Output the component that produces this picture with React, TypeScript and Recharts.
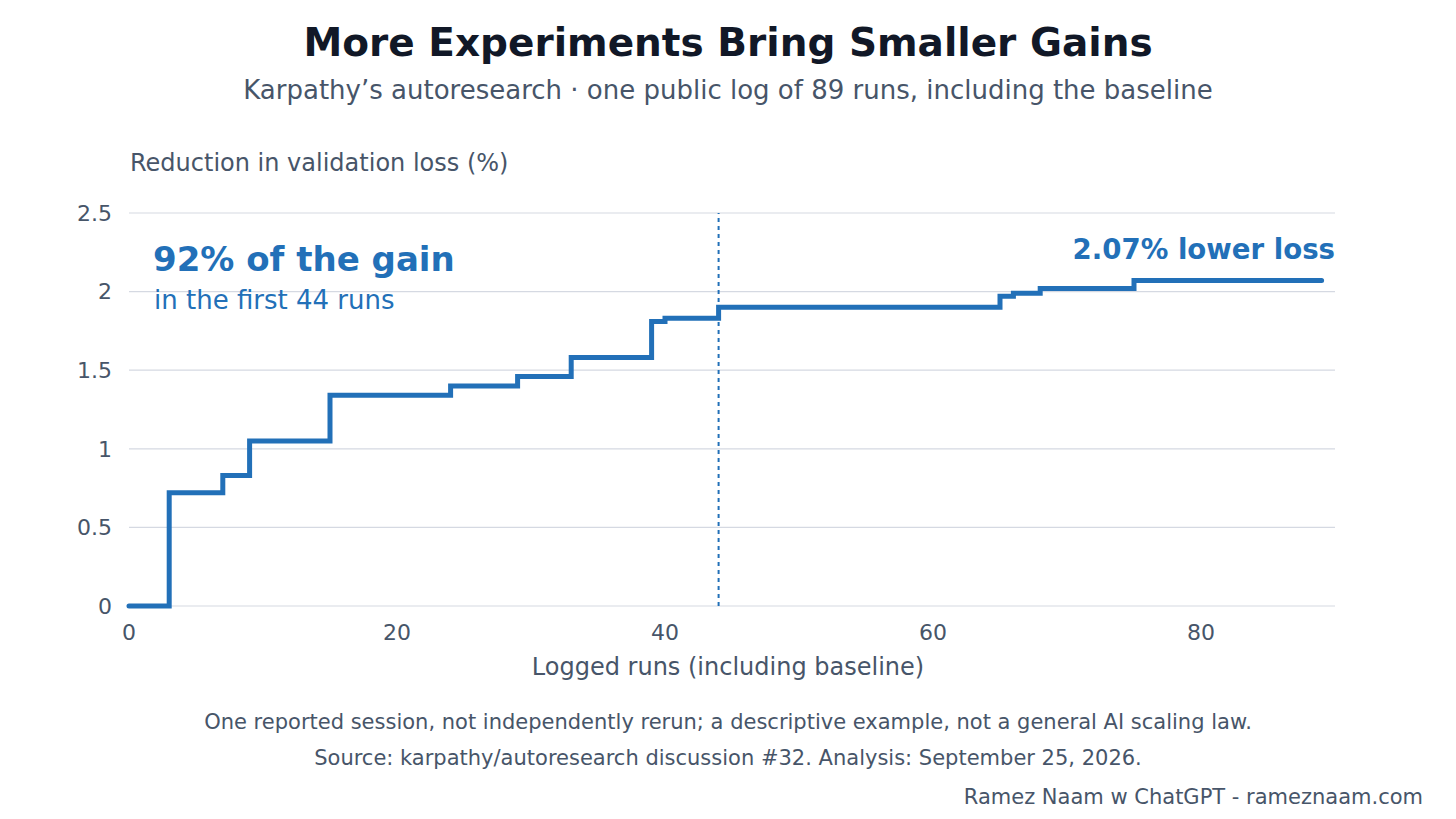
import { CartesianGrid, Line, LineChart, ReferenceLine, XAxis, YAxis } from 'recharts';

// run index where the best loss improved, and the cumulative reduction (%) from there on
const runs = [0, 3, 7, 9, 15, 24, 29, 33, 39, 40, 44, 65, 66, 68, 75, 89];
const reduction = [0, 0.72, 0.83, 1.05, 1.34, 1.4, 1.46, 1.58, 1.81, 1.83, 1.9, 1.97, 1.99, 2.02, 2.07, 2.07];
const xTicks = [0, 20, 40, 60, 80];
const yTicks = [0, 0.5, 1, 1.5, 2, 2.5];
const cutoffRun = 44;

const data = runs.map((run, i) => ({ run, value: reduction[i] }));

const FONT = '"DejaVu Sans", Verdana, sans-serif';
const BLUE = '#2270b8';
const SLATE = '#475569';

const fmtY = (v: number) => String(v);

function Label({ x, y, size, children, color = SLATE, weight = 400, align = 'left' }: any) {
  const tx = align === 'center' ? '-50%' : align === 'right' ? '-100%' : '0';
  return (
    <div
      style={{
        position: 'absolute',
        left: x,
        top: y,
        transform: `translate(${tx}, -50%)`,
        fontSize: size,
        fontWeight: weight,
        color,
        whiteSpace: 'nowrap',
        lineHeight: 1,
      }}
    >
      {children}
    </div>
  );
}

export default function App() {
  return (
    <div style={{ position: 'relative', width: 1456, height: 819, background: '#fff', fontFamily: FONT }}>
      <style>{'body{margin:0}'}</style>
      <LineChart width={1456} height={819} data={data} margin={{ top: 213, right: 121, bottom: 183, left: 69 }}>
        <CartesianGrid vertical={false} stroke="#d5d9e2" strokeWidth={1.2} />
        <XAxis
          dataKey="run"
          type="number"
          domain={[0, 90]}
          ticks={xTicks}
          axisLine={false}
          tickLine={false}
          tickMargin={12}
          height={30}
          tick={{ fill: SLATE, fontSize: 22, fontFamily: FONT }}
        />
        <YAxis
          type="number"
          domain={[0, 2.5]}
          ticks={yTicks}
          tickFormatter={fmtY}
          axisLine={false}
          tickLine={false}
          tickMargin={11}
          width={60}
          tick={{ fill: SLATE, fontSize: 22, fontFamily: FONT }}
        />
        <ReferenceLine x={cutoffRun} stroke={BLUE} strokeWidth={2} strokeDasharray="4 4" />
        <Line
          type="stepAfter"
          dataKey="value"
          stroke={BLUE}
          strokeWidth={5}
          dot={false}
          strokeLinecap="round"
          strokeLinejoin="miter"
          isAnimationActive={false}
        />
      </LineChart>

      <Label x={728} y={42} size={39} weight={700} color="#111827" align="center">
        More Experiments Bring Smaller Gains
      </Label>
      <Label x={728} y={90} size={26} align="center">
        Karpathy’s autoresearch · one public log of 89 runs, including the baseline
      </Label>
      <Label x={130} y={163} size={24}>
        Reduction in validation loss (%)
      </Label>
      <Label x={153} y={259} size={34} weight={700} color={BLUE}>
        92% of the gain
      </Label>
      <Label x={154} y={300} size={26} color={BLUE}>
        in the first 44 runs
      </Label>
      <Label x={1335} y={250} size={27.6} weight={700} color={BLUE} align="right">
        2.07% lower loss
      </Label>
      <Label x={728} y={667} size={24} align="center">
        Logged runs (including baseline)
      </Label>
      <Label x={728} y={722} size={21} align="center">
        One reported session, not independently rerun; a descriptive example, not a general AI scaling law.
      </Label>
      <Label x={728} y={758} size={21} align="center">
        Source: karpathy/autoresearch discussion #32. Analysis: September 25, 2026.
      </Label>
      <Label x={1423} y={797} size={21} align="right">
        Ramez Naam w ChatGPT - rameznaam.com
      </Label>
    </div>
  );
}
